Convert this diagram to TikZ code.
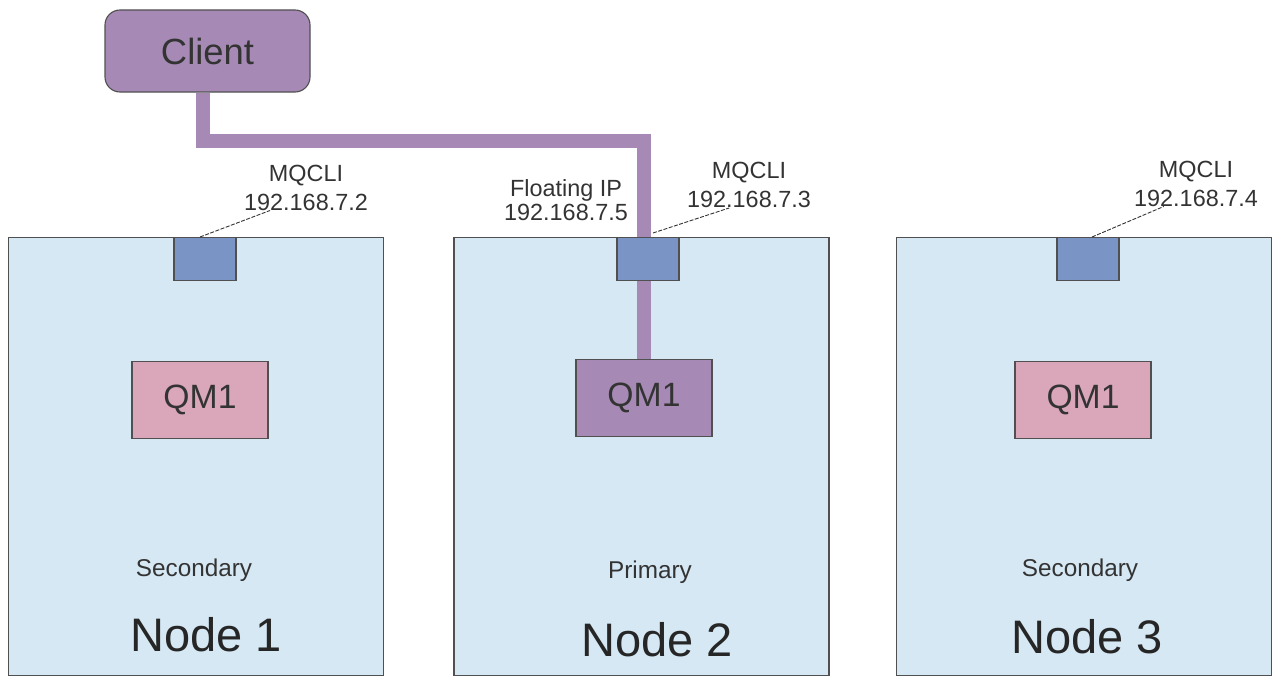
\documentclass[tikz,border=0pt]{standalone}
\usepackage{fontspec}
\setmainfont{Liberation Sans}
\usetikzlibrary{positioning,calc}
\definecolor{hostfill}{HTML}{D5E8F4}
\definecolor{portfill}{HTML}{7A94C6}
\definecolor{qmfill}{HTML}{D9A6BA}
\definecolor{linkfill}{HTML}{A68AB5}
\definecolor{edge}{HTML}{505050}
\definecolor{ink}{HTML}{333333}
\pgfdeclarelayer{back}
\pgfdeclarelayer{mid}
\pgfsetlayers{back,mid,main}

\begin{document}
\begin{tikzpicture}[x=1pt, y=-1pt,
  host/.style={draw=edge, line width=1.3pt, fill=hostfill, minimum width=375pt, minimum height=438pt, anchor=north west, inner sep=0pt},
  port/.style={draw=edge, line width=1.1pt, fill=portfill, minimum width=62pt, minimum height=43pt, anchor=north, inner sep=0pt},
  qmbox/.style={draw=edge, line width=1.1pt, fill=qmfill, minimum width=136pt, minimum height=77pt, inner sep=0pt, text=ink, font=\fontsize{33.7}{40}\selectfont},
  iplabel/.style={align=center, inner sep=0pt, text=ink, font=\fontsize{23.4}{29}\selectfont},
  role/.style={inner sep=0pt, text=ink, font=\fontsize{24.3}{29}\selectfont},
  hostname/.style={inner sep=0pt, text=black!85, font=\fontsize{47}{56}\selectfont},
  leader/.style={draw=black!80, line width=0.9pt, dash pattern=on 4pt off 1.5pt},
  link/.style={draw=linkfill, line width=14pt, line join=miter}
]
  \useasboundingbox (0,0) rectangle (1274,677);

  % the three cluster nodes
  \begin{pgfonlayer}{back}
    \node[host] (host1) at (8,237) {};
    \node[host, right=69pt of host1.north east, anchor=north west] (host2) {};
    \node[host, right=66pt of host2.north east, anchor=north west] (host3) {};
  \end{pgfonlayer}

  \node[draw=edge, line width=1.1pt, fill=linkfill, rounded corners=15pt, minimum width=205pt, minimum height=82pt, text=ink, font=\fontsize{36.4}{44}\selectfont] (client) at (207.5,51) {Client};

  \node[port] (port1) at (205,237) {};
  \node[port] (port2) at (648,237) {};
  \node[port] (port3) at (1088,237) {};

  \node[qmbox] (qm1) at (200,400) {QM1};
  \node[qmbox, fill=linkfill] (qm2) at (644,398) {QM1};
  \node[qmbox] (qm3) at (1083,400) {QM1};

  \node[iplabel] (ip1) at (306,187.5) {MQCLI\\192.168.7.2};
  \node[iplabel, font=\fontsize{23.4}{24}\selectfont] (float) at (566,200) {Floating IP\\192.168.7.5};
  \node[iplabel] (ip2) at (749,185) {MQCLI\\192.168.7.3};
  \node[iplabel] (ip3) at (1196,183.5) {MQCLI\\192.168.7.4};

  \node[role] (role1) at (194,570) {Secondary};
  \node[role] (role2) at (650,572) {Primary};
  \node[role] (role3) at (1080,570) {Secondary};

  \node[hostname] (name1) at (206,635) {Node 1};
  \node[hostname] (name2) at (657,640) {Node 2};
  \node[hostname] (name3) at (1087,637) {Node 3};

  % client connection to the active queue manager
  \begin{pgfonlayer}{mid}
    \draw[link] ([xshift=-4.5pt]client.south) -- ++(0,48) -| (qm2.north);
  \end{pgfonlayer}

  \draw[leader] ([xshift=-5pt]port1.north) -- ($(ip1.south west)!0.21!(ip1.south east)$);
  \draw[leader] ([xshift=5pt, yshift=4pt]port2.north) -- ($(ip2.south west)!0.34!(ip2.south east)$);
  \draw[leader] ([xshift=4pt]port3.north) -- ($(ip3.south west)!0.24!(ip3.south east)$);
\end{tikzpicture}
\end{document}
